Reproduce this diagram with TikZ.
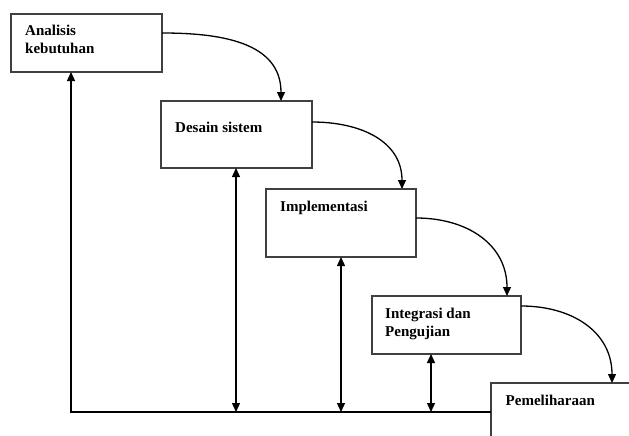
\documentclass[tikz,border=0pt]{standalone}
\usepackage{fontspec}
\setmainfont{Liberation Serif}
\usetikzlibrary{arrows.meta}

\tikzset{
        stage/.style = {draw = black!75, line width = 1.3pt, rectangle,
                        inner sep = 0pt, outer sep = 0pt, anchor = north west},
        stagetext/.style = {anchor = north west, inner sep = 0pt, align = left,
                            font = \fontsize{15}{18}\selectfont\bfseries},
        flow/.style = {line width = 1.3pt, -{Triangle[length = 9pt, width = 8pt]}},
        twoway/.style = {line width = 1.3pt,
                         {Triangle[length = 9pt, width = 8pt]}-{Triangle[length = 9pt, width = 8pt]}}
}

\begin{document}
\begin{tikzpicture}[x = 1pt, y = -1pt]

        \useasboundingbox (0, 0) rectangle (629, 436);
        \clip (0, 0) rectangle (629, 436);

        \node [stage, minimum width = 151, minimum height = 58] (analisis) at (11, 14) {};
        \node [stage, minimum width = 151, minimum height = 67] (desain) at (161, 101) {};
        \node [stage, minimum width = 150, minimum height = 68] (implementasi) at (266, 189) {};
        \node [stage, minimum width = 149, minimum height = 58] (integrasi) at (372, 296) {};
        \node [stage, minimum width = 200, minimum height = 100] (pemeliharaan) at (491, 383) {};

        \node [stagetext] (tanalisis) at ([shift = {(14, 10.5)}]analisis.north west) {Analisis\\kebutuhan};
        \node [stagetext] (tdesain) at ([shift = {(14, 20.5)}]desain.north west) {Desain sistem};
        \node [stagetext] (timplementasi) at ([shift = {(14, 11.5)}]implementasi.north west) {Implementasi};
        \node [stagetext] (tintegrasi) at ([shift = {(13, 11.5)}]integrasi.north west) {Integrasi dan\\Pengujian};
        \node [stagetext] (tpemeliharaan) at ([shift = {(14.5, 12)}]pemeliharaan.north west) {Pemeliharaan};

        \draw [flow] ([yshift = 10pt]analisis.east) to [out = 0, in = 90, looseness = 1.1] ([xshift = -31pt]desain.north east);
        \draw [flow] ([yshift = 12.5pt]desain.east) to [out = 0, in = 90, looseness = 1.1] ([xshift = -14pt]implementasi.north east);
        \draw [flow] ([yshift = 5pt]implementasi.east) to [out = 0, in = 90, looseness = 1.1] ([xshift = -14pt]integrasi.north east);
        \draw [flow] ([yshift = 19pt]integrasi.east) to [out = 0, in = 90, looseness = 1.1] ([xshift = 121pt]pemeliharaan.north west);

        \coordinate (corner) at (71, 412);
        \draw [flow] (pemeliharaan.west |- corner) -- (corner) -- (corner |- analisis.south);

        \coordinate (b1) at (236, 412);
        \coordinate (b2) at (341, 412);
        \coordinate (b3) at (431, 412);
        \draw [twoway] (b1 |- desain.south) -- (b1);
        \draw [twoway] (b2 |- implementasi.south) -- (b2);
        \draw [twoway] (b3 |- integrasi.south) -- (b3);

    \end{tikzpicture}
\end{document}
